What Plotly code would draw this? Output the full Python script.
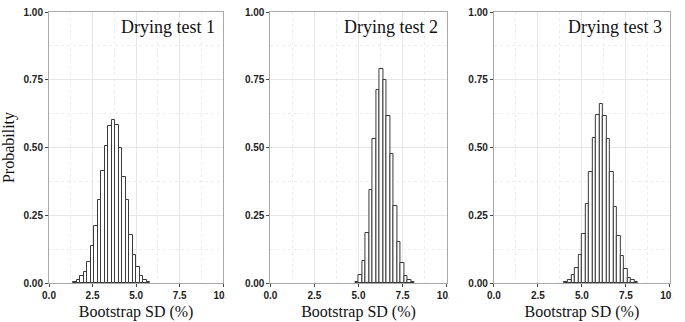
import plotly.graph_objects as go
from plotly.subplots import make_subplots

bin_width = 0.2

test1_edges = [1.4, 1.6, 1.8, 2.0, 2.2, 2.4, 2.6, 2.8, 3.0, 3.2, 3.4, 3.6, 3.8, 4.0,
               4.2, 4.4, 4.6, 4.8, 5.0, 5.2, 5.4, 5.6]
test1_prob = [0.005, 0.011, 0.025, 0.040, 0.077, 0.135, 0.210, 0.306, 0.415, 0.505,
              0.580, 0.600, 0.583, 0.500, 0.390, 0.306, 0.176, 0.103, 0.058, 0.025,
              0.011, 0.004]

test2_edges = [4.8, 5.0, 5.2, 5.4, 5.6, 5.8, 6.0, 6.2, 6.4, 6.6, 6.8, 7.0, 7.2, 7.4,
               7.6, 7.8, 8.0]
test2_prob = [0.005, 0.030, 0.082, 0.185, 0.345, 0.533, 0.713, 0.790, 0.750, 0.618,
              0.475, 0.285, 0.150, 0.072, 0.027, 0.011, 0.004]

test3_edges = [4.0, 4.2, 4.4, 4.6, 4.8, 5.0, 5.2, 5.4, 5.6, 5.8, 6.0, 6.2, 6.4, 6.6,
               6.8, 7.0, 7.2, 7.4, 7.6, 7.8, 8.0]
test3_prob = [0.005, 0.012, 0.030, 0.055, 0.105, 0.180, 0.290, 0.410, 0.535, 0.620,
              0.660, 0.615, 0.530, 0.410, 0.280, 0.175, 0.100, 0.050, 0.020, 0.010,
              0.004]

panel_titles = ["Drying test 1", "Drying test 2", "Drying test 3"]
x_ticks = [0, 2.5, 5, 7.5, 10]
x_ticklabels = ["0.0", "2.5", "5.0", "7.5", "10.0"]
y_ticks = [0, 0.25, 0.5, 0.75, 1.0]
y_ticklabels = ["0.00", "0.25", "0.50", "0.75", "1.00"]

series = [(test1_edges, test1_prob), (test2_edges, test2_prob), (test3_edges, test3_prob)]

W, H = 685, 322
ml, mr, mt, mb = 49, 5, 12, 38
pw = W - ml - mr
domains = [((49 - ml) / pw, (226 - ml) / pw),
           ((274 - ml) / pw, (453 - ml) / pw),
           ((501 - ml) / pw, (680 - ml) / pw)]

fig = make_subplots(rows=1, cols=3)

serif = "Liberation Serif, Times New Roman, serif"
sans = "Liberation Sans, Arial, sans-serif"

for i, (edges, prob) in enumerate(series):
    fig.add_trace(go.Bar(x=edges, y=prob, width=bin_width, offset=0,
                         marker=dict(color="white", line=dict(color="#3a3a3a", width=1)),
                         showlegend=False), row=1, col=i + 1)
    xa = "xaxis" if i == 0 else f"xaxis{i+1}"
    ya = "yaxis" if i == 0 else f"yaxis{i+1}"
    fig.layout[xa].update(
        domain=list(domains[i]), range=[0, 10], tickvals=x_ticks, ticktext=x_ticklabels,
        showline=True, linecolor="#a8a8a8", linewidth=1, mirror=True,
        ticks="outside", ticklen=3, tickcolor="#444", tickwidth=1,
        showgrid=True, gridcolor="#e6e6e6", gridwidth=1, zeroline=False,
        minor=dict(dtick=1.25, tick0=0, showgrid=True, gridcolor="#ececec", griddash="dot", ticks=""),
        tickfont=dict(family=sans, size=10, color="#222", weight="bold"),
        title=dict(text="Bootstrap SD (%)", font=dict(family=serif, size=16, color="#111"), standoff=5),
    )
    fig.layout[ya].update(
        range=[0, 1.0], tickvals=y_ticks, ticktext=y_ticklabels,
        showline=True, linecolor="#a8a8a8", linewidth=1, mirror=True,
        ticks="outside", ticklen=3, tickcolor="#444", tickwidth=1,
        showgrid=True, gridcolor="#e6e6e6", gridwidth=1, zeroline=False,
        minor=dict(dtick=0.125, tick0=0, showgrid=True, gridcolor="#ececec", griddash="dot", ticks=""),
        tickfont=dict(family=sans, size=10, color="#222", weight="bold"),
    )
    xref = "x domain" if i == 0 else f"x{i+1} domain"
    yref = "y domain" if i == 0 else f"y{i+1} domain"
    fig.add_annotation(text=panel_titles[i], xref=xref, yref=yref, x=0.965, y=0.99,
                       xanchor="right", yanchor="top", showarrow=False,
                       font=dict(family=serif, size=18, color="#111"))
    # mask the tick label overflow beyond the panel border (as in the reference)
    fig.add_shape(type="rect", xref=xref, yref=yref, x0=1.012, x1=1.07, y0=-0.065, y1=-0.005,
                  fillcolor="white", line=dict(width=0), layer="above")

fig.update_layout(
    width=W, height=H, margin=dict(l=ml, r=mr, t=mt, b=mb),
    paper_bgcolor="white", plot_bgcolor="white", bargap=0,
    yaxis_title=dict(text="Probability", font=dict(family=serif, size=16, color="#111"), standoff=6),
)

fig.write_html("out.html", config={"displayModeBar": False},
               post_script="document.body.style.margin='0';document.body.style.overflow='hidden';")
